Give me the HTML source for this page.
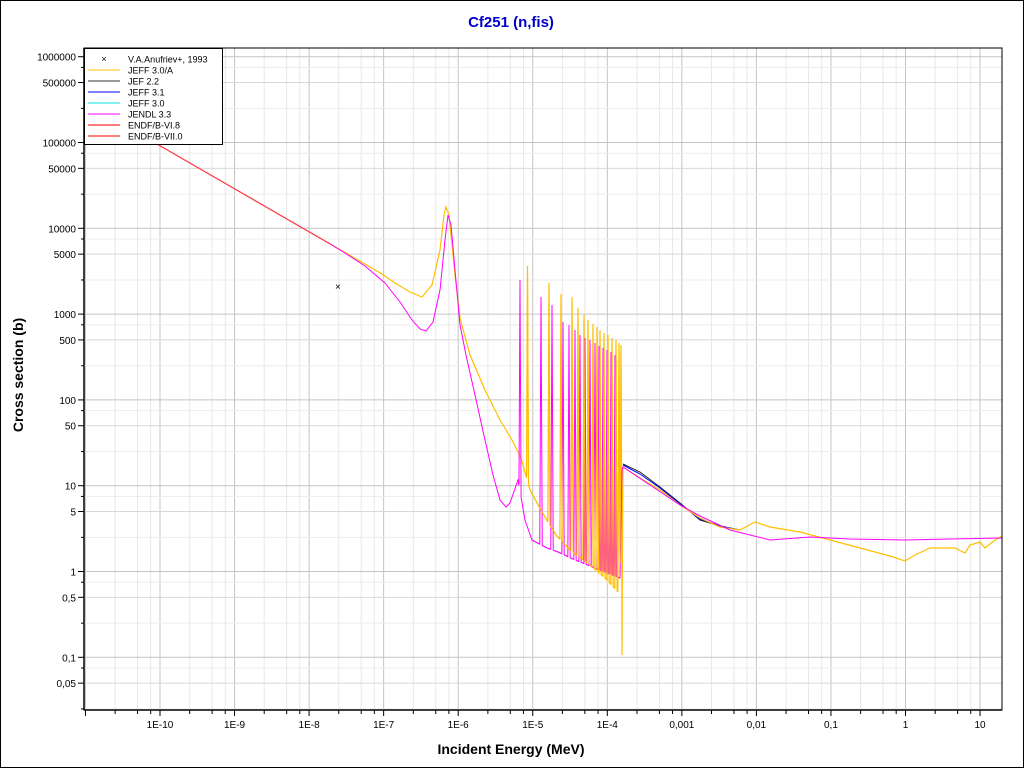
<!DOCTYPE html>
<html><head><meta charset="utf-8"><style>
html,body{margin:0;padding:0;background:#fff}
svg{display:block;font-family:"Liberation Sans",Arial,sans-serif}
</style></head><body>
<svg id="s" width="1024" height="768" xmlns="http://www.w3.org/2000/svg">
<rect x="0.5" y="0.5" width="1023" height="767" fill="#fff" stroke="#000"/>
<g id="grid"></g>
<g id="curves" fill="none" stroke-width="1"></g>
<g id="axes"></g>
<text x="511" y="27" text-anchor="middle" font-size="15" font-weight="bold" fill="#0000cc">Cf251 (n,fis)</text>
<text x="511" y="754" text-anchor="middle" font-size="14" font-weight="bold">Incident Energy (MeV)</text>
<text transform="translate(23,375) rotate(-90)" text-anchor="middle" font-size="14" font-weight="bold">Cross section (b)</text>
<text x="335" y="290" font-size="10">×</text>
<g id="legend"></g>
</svg>
<script>
const NS="http://www.w3.org/2000/svg";
function el(p,t,a,txt){const e=document.createElementNS(NS,t);for(const k in a)e.setAttribute(k,a[k]);if(txt!==undefined)e.textContent=txt;document.getElementById(p).appendChild(e);return e;}
const L=84,R=1002,T=48,B=710;
const X=lg=>160+(lg+10)*74.55;
const Y=lg=>56.7+(6-lg)*85.8;
for(let d=-12;d<=1;d++){
 for(const m of [2.5,5,7.5]){const x=X(d+Math.log10(m));if(x>L&&x<R)el('grid','line',{x1:x,x2:x,y1:T,y2:B,stroke:'#e8e8e8'});}
 const x=X(d);if(x>L&&x<R)el('grid','line',{x1:x,x2:x,y1:T,y2:B,stroke:'#c4c4c4'});
}
for(let d=-2;d<=6;d++){
 for(const m of [2.5,5,7.5]){const y=Y(d+Math.log10(m));if(y>T&&y<B)el('grid','line',{x1:L,x2:R,y1:y,y2:y,stroke:m==5?'#d8d8d8':'#ececec'});}
 const y=Y(d);if(y>T&&y<B)el('grid','line',{x1:L,x2:R,y1:y,y2:y,stroke:'#c4c4c4'});
}
el('axes','rect',{x:L,y:T,width:R-L,height:B-T,fill:'none',stroke:'#000'});
el('axes','line',{x1:L,x2:R,y1:B,y2:B,stroke:'#000','stroke-width':1.5});
el('axes','line',{x1:L,x2:L,y1:T,y2:B,stroke:'#000','stroke-width':1.5});
const xl={'-10':'1E-10','-9':'1E-9','-8':'1E-8','-7':'1E-7','-6':'1E-6','-5':'1E-5','-4':'1E-4','-3':'0,001','-2':'0,01','-1':'0,1','0':'1','1':'10'};
for(let d=-12;d<=1;d++){
 for(const m of [2.5,5,7.5]){const x=X(d+Math.log10(m));if(x>L&&x<R)el('axes','line',{x1:x,x2:x,y1:B,y2:B+4,stroke:'#000'});}
 const x=X(d);if(x>L&&x<R){el('axes','line',{x1:x,x2:x,y1:B,y2:B+6,stroke:'#000'});el('axes','text',{x:x,y:B+18,'text-anchor':'middle','font-size':10},xl[d]);}
}
const yl={6:'1000000',5:'100000',4:'10000',3:'1000',2:'100',1:'10',0:'1','-1':'0,1'};
const y5={6:'500000',5:'50000',4:'5000',3:'500',2:'50',1:'5',0:'0,5','-1':'0,05'};
for(let d=-2;d<=6;d++){
 let y=Y(d);if(y>T&&y<B){el('axes','line',{x1:L-6,x2:L,y1:y,y2:y,stroke:'#000'});el('axes','text',{x:L-8,y:y+4,'text-anchor':'end','font-size':10},yl[d]);}
 y=Y(d-1+Math.log10(5));if(y>T&&y<B){el('axes','line',{x1:L-6,x2:L,y1:y,y2:y,stroke:'#000'});el('axes','text',{x:L-8,y:y+4,'text-anchor':'end','font-size':10},y5[d]);}
 for(const m of [2.5,7.5]){y=Y(d-1+Math.log10(m));if(y>T&&y<B)el('axes','line',{x1:L-3,x2:L,y1:y,y2:y,stroke:'#000'});}
}
function pl(pts,c,w){el('curves','polyline',{points:pts.map(p=>p[0].toFixed(2)+','+p[1].toFixed(1)).join(' '),stroke:c,'stroke-width':w||1});}
function lin(a,x){if(x<=a[0][0])return a[0][1];for(let i=0;i<a.length-1;i++){if(x<=a[i+1][0]){const t=(x-a[i][0])/(a[i+1][0]-a[i][0]);return a[i][1]+t*(a[i+1][1]-a[i][1]);}}return a[a.length-1][1];}
function reson(base,peaks,x0,x1,slope){
 const out=[];
 for(let x=x0;x<=x1;x+=0.05){
  let y=lin(base,x);
  for(const p of peaks){y=Math.min(y,p[1]+slope*Math.abs(x-p[0]));}
  out.push([x,y]);
 }
 return out;
}
let yw=[];
for(let x=84;x<=380;x+=4)yw.push([x,140+(x-150)*0.577]);
yw.push([395,283],[410,292],[422,297],[432,285],[440,250],[444,215],[446,207],[449,215],[452,245],[455,275],[460,318],[470,355],[485,390],[500,420],[512,440]);
const ys=[[527.5,266],[549,283],[561,294],[572,297],[578,308],[584,315],[588,320],[593,324],[597,327],[600,330],[604,333],[608,335],[612,338],[616,340],[619,343],[621,345]];
const yb=[[512,440],[521,458],[530,490],[542,512],[556,535],[570,550],[590,565],[605,578],[621,595]];
yw=yw.concat(reson(yb,ys,512,621.5,220));
yw.push([622,655],[622.6,520],[623,467],[640,478],[660,490],[680,505],[700,518],[720,527],[740,530],[755,522],[770,527],[800,532],[830,540],[860,548],[890,556],[905,561],[915,555],[930,548],[955,548],[965,553],[970,545],[980,542],[985,548],[995,540],[1002,536]);
let mg=[];
for(let x=150;x<=330;x+=4)mg.push([x,140+(x-150)*0.577]);
mg.push([345,253],[365,266],[385,283],[400,302],[412,320],[420,329],[426,331],[433,322],[440,290],[445,240],[448,215],[451,225],[455,270],[460,325],[466,355],[475,395],[485,440],[493,475],[500,500],[506,507],[510,503]);
const ms=[[520,280],[541,297],[552,305],[563,322],[569,325],[575,330],[580,335],[585,338],[590,340],[595,343],[599,346],[603,348],[607,350],[611,352],[615,355]];
const mb=[[510,503],[518,480],[525,520],[532,540],[547,548],[558,552],[575,560],[595,568],[620,578]];
mg=mg.concat(reson(mb,ms,510,620,200));
mg.push([621,520],[622,470],[623,467],[650,485],[680,505],[700,516],[730,530],[770,540],[810,537],[850,539],[905,540],[950,539],[1002,538]);
pl([[623,464],[640,472],[660,487],[680,503],[700,520],[720,526],[740,530]],'#222');
pl([[623,465],[640,474],[660,488],[680,504],[700,519],[720,526],[740,530]],'#0000ff');
pl(yw,'#ffbf00',1.2);
pl(mg,'#ff00ff');
pl(yw.filter(p=>p[0]>525&&p[0]<622),'#ffbf00',1);
pl([[150,140],[330,243.9]],'#ff4040',1);
el('legend','rect',{x:84.5,y:48.5,width:138,height:96,fill:'#fff',stroke:'#000'});
const cols=[null,'#ffbf00','#333','#0000ff','#00e0e0','#ff00ff','#ff0000','#ff0000'];
const names=['V.A.Anufriev+, 1993','JEFF 3.0/A','JEF 2.2','JEFF 3.1','JEFF 3.0','JENDL 3.3','ENDF/B-VI.8','ENDF/B-VII.0'];
cols.forEach((c,i)=>{const y=59+i*11;
 if(c)el('legend','line',{x1:88,x2:120,y1:y,y2:y,stroke:c});else el('legend','text',{x:104,y:y+3,'text-anchor':'middle','font-size':9},'×');
 el('legend','text',{x:128,y:y+3.5,'font-size':9},names[i]);});
</script>
</body></html>
